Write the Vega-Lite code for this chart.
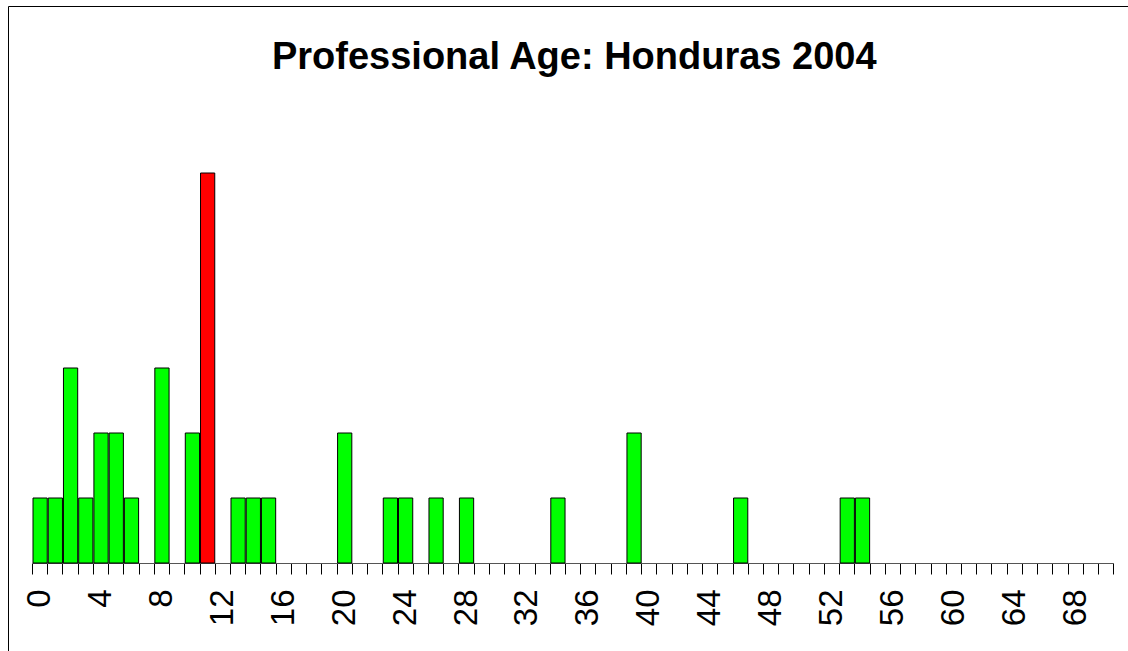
{
  "$schema": "https://vega.github.io/schema/vega-lite/v6.json",
  "width": 1120.5,
  "height": 645.5,
  "autosize": {"type": "none"},
  "padding": {"left": 8, "top": 6, "right": 0, "bottom": 0},
  "background": "white",
  "config": {"view": {"stroke": "black", "strokeWidth": 1}, "font": "Liberation Sans"},
  "title": {
    "text": "Professional Age: Honduras 2004",
    "font": "Liberation Sans",
    "fontSize": 38,
    "fontWeight": "bold",
    "color": "black",
    "anchor": "middle",
    "dx": 6,
    "offset": -71
  },
  "data": {
    "values": [
      {"age": 0, "count": 1, "mode": "no"},
      {"age": 1, "count": 1, "mode": "no"},
      {"age": 2, "count": 3, "mode": "no"},
      {"age": 3, "count": 1, "mode": "no"},
      {"age": 4, "count": 2, "mode": "no"},
      {"age": 5, "count": 2, "mode": "no"},
      {"age": 6, "count": 1, "mode": "no"},
      {"age": 8, "count": 3, "mode": "no"},
      {"age": 10, "count": 2, "mode": "no"},
      {"age": 11, "count": 6, "mode": "yes"},
      {"age": 13, "count": 1, "mode": "no"},
      {"age": 14, "count": 1, "mode": "no"},
      {"age": 15, "count": 1, "mode": "no"},
      {"age": 20, "count": 2, "mode": "no"},
      {"age": 23, "count": 1, "mode": "no"},
      {"age": 24, "count": 1, "mode": "no"},
      {"age": 26, "count": 1, "mode": "no"},
      {"age": 28, "count": 1, "mode": "no"},
      {"age": 34, "count": 1, "mode": "no"},
      {"age": 39, "count": 2, "mode": "no"},
      {"age": 46, "count": 1, "mode": "no"},
      {"age": 53, "count": 1, "mode": "no"},
      {"age": 54, "count": 1, "mode": "no"}
    ]
  },
  "mark": {"type": "bar", "stroke": "black", "strokeWidth": 1, "opacity": 1},
  "encoding": {
    "x": {
      "field": "age",
      "type": "quantitative",
      "bin": {"step": 1, "extent": [0, 71]},
      "scale": {"domain": [0, 71], "range": [24, 1105.3], "nice": false, "zero": false},
      "axis": {
        "values": [0,1,2,3,4,5,6,7,8,9,10,11,12,13,14,15,16,17,18,19,20,21,22,23,24,25,26,27,28,29,30,31,32,33,34,35,36,37,38,39,40,41,42,43,44,45,46,47,48,49,50,51,52,53,54,55,56,57,58,59,60,61,62,63,64,65,66,67,68,69,70,71],
        "labelExpr": "datum.value % 4 === 0 && datum.value <= 68 ? datum.value + '' : ''",
        "labelAngle": -90,
        "labelOffset": 7.6,
        "labelFontSize": 33,
        "labelFont": "Liberation Sans",
        "labelColor": "black",
        "labelPadding": 15,
        "labelOverlap": false,
        "labelFlush": false,
        "labelBound": false,
        "tickSize": 11,
        "tickColor": "black",
        "tickWidth": 1,
        "domainColor": "#555555",
        "domainWidth": 1,
        "grid": false,
        "title": null,
        "offset": -88.5
      }
    },
    "y": {
      "field": "count",
      "aggregate": "sum",
      "type": "quantitative",
      "stack": null,
      "scale": {"domain": [0, 6], "range": [557, 167]},
      "axis": null
    },
    "color": {
      "field": "mode",
      "type": "nominal",
      "scale": {"domain": ["no", "yes"], "range": ["#00ff00", "#ff0000"]},
      "legend": null
    }
  }
}
